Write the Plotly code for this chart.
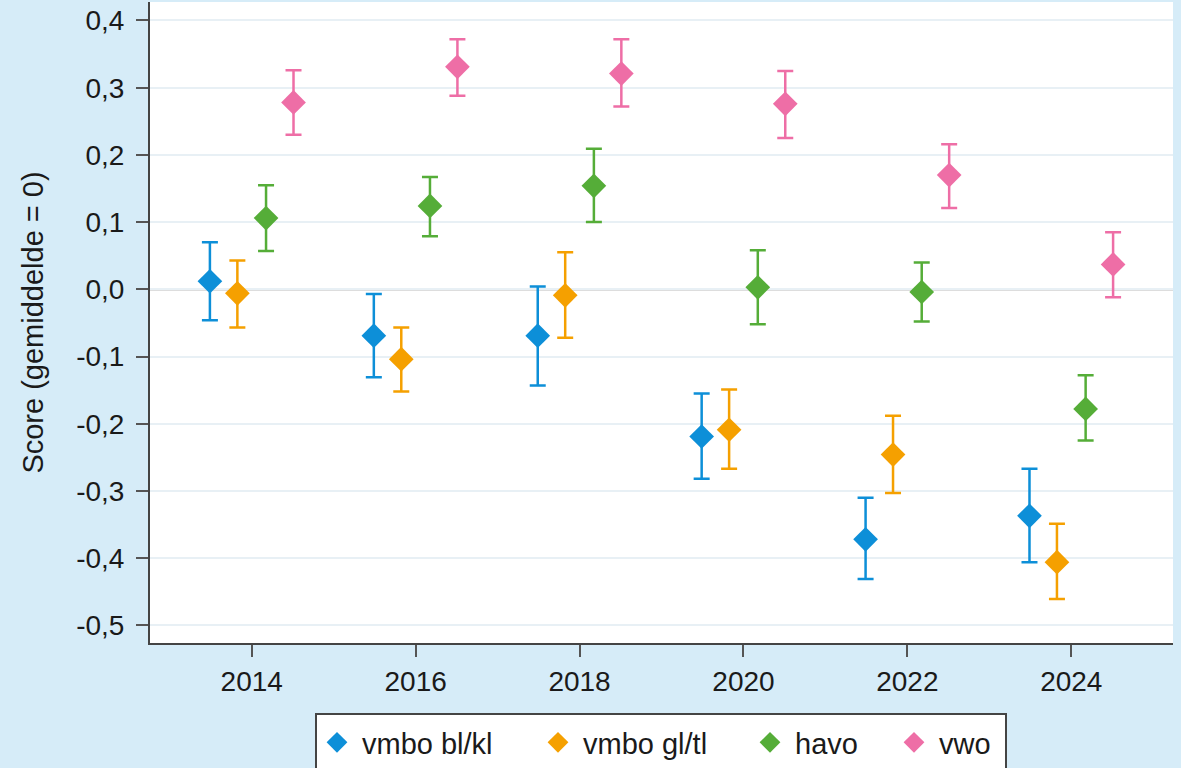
import plotly.graph_objects as go

years = [2014, 2016, 2018, 2020, 2022, 2024]
series_names = ["vmbo bl/kl", "vmbo gl/tl", "havo", "vwo"]

vmbo_bk = [0.012, -0.069, -0.069, -0.219, -0.372, -0.337]
vmbo_bk_hi = [0.070, -0.007, 0.004, -0.155, -0.310, -0.267]
vmbo_bk_lo = [-0.046, -0.131, -0.143, -0.282, -0.431, -0.406]

vmbo_gt = [-0.006, -0.104, -0.009, -0.209, -0.246, -0.406]
vmbo_gt_hi = [0.043, -0.057, 0.055, -0.149, -0.188, -0.349]
vmbo_gt_lo = [-0.057, -0.152, -0.072, -0.267, -0.303, -0.461]

havo = [0.106, 0.124, 0.154, 0.003, -0.004, -0.178]
havo_hi = [0.155, 0.167, 0.209, 0.058, 0.040, -0.128]
havo_lo = [0.057, 0.079, 0.100, -0.052, -0.048, -0.225]

vwo = [0.278, 0.331, 0.321, 0.276, 0.170, 0.037]
vwo_hi = [0.326, 0.372, 0.372, 0.325, 0.216, 0.085]
vwo_lo = [0.230, 0.288, 0.272, 0.225, 0.121, -0.012]

y_ticks = [-0.5, -0.4, -0.3, -0.2, -0.1, 0.0, 0.1, 0.2, 0.3, 0.4]
y_ticklabels = ["-0,5", "-0,4", "-0,3", "-0,2", "-0,1", "0,0", "0,1", "0,2", "0,3", "0,4"]

colors = ["#0d8fd8", "#f5a000", "#55ad38", "#ee6ea6"]
offsets = [-0.51, -0.175, 0.175, 0.51]

data = [
    (vmbo_bk, vmbo_bk_hi, vmbo_bk_lo),
    (vmbo_gt, vmbo_gt_hi, vmbo_gt_lo),
    (havo, havo_hi, havo_lo),
    (vwo, vwo_hi, vwo_lo),
]

# plot area geometry (pixels)
L, R, T, B = 150, 8, 2, 125
W, H = 1181, 768
pw, ph = W - L - R, H - T - B

def px_x(p):
    return (p - L) / pw

def px_y(p):
    return (H - B - p) / ph

legend_ids = ["legend", "legend2", "legend3", "legend4"]
legend_px = [336, 557, 769, 913]  # diamond centres in legend

FONT = "Liberation Sans, Arial, sans-serif"
fig = go.Figure()
for name, (vals, hi, lo), col, off, lid in zip(series_names, data, colors, offsets, legend_ids):
    fig.add_trace(go.Scatter(
        x=[y + off for y in years],
        y=vals,
        mode="markers",
        name=name,
        legend=lid,
        marker=dict(symbol="diamond", size=19, color=col, line=dict(width=0)),
        error_y=dict(
            type="data",
            symmetric=False,
            array=[h - v for h, v in zip(hi, vals)],
            arrayminus=[v - l for v, l in zip(vals, lo)],
            color=col,
            thickness=2.5,
            width=8,
        ),
    ))

fig.add_shape(type="line", xref="paper", x0=0, x1=1, yref="y", y0=0, y1=0,
              line=dict(color="#7a7a7a", width=2), layer="below")

# legend frame
fig.add_shape(type="rect", xref="paper", yref="paper",
              x0=px_x(316), x1=px_x(1006), y0=px_y(714), y1=px_y(820),
              fillcolor="#ffffff", line=dict(color="#444444", width=2), layer="above")

legends = {}
for lid, cx in zip(legend_ids, legend_px):
    legends[lid] = dict(
        orientation="h",
        x=px_x(cx - 24), xanchor="left",
        y=px_y(717), yanchor="top",
        bgcolor="rgba(0,0,0,0)",
        borderwidth=0,
        itemwidth=40,
        font=dict(family=FONT, size=29, color="#1a1a1a"),
    )

fig.update_layout(
    width=W, height=H,
    paper_bgcolor="#d6ecf8",
    plot_bgcolor="#ffffff",
    margin=dict(l=L, r=R, t=T, b=B, autoexpand=False),
    font=dict(family=FONT, size=28, color="#1a1a1a"),
    showlegend=True,
    **legends,
    xaxis=dict(
        range=[2012.759, 2025.241],
        tickvals=years,
        ticktext=[str(y) for y in years],
        showgrid=False,
        zeroline=False,
        automargin=False,
        showline=True, linecolor="#444444", linewidth=2,
        ticks="outside", ticklen=12, tickwidth=2, tickcolor="#555555",
        tickfont=dict(size=28),
    ),
    yaxis=dict(
        range=[-0.5263, 0.4275],
        tickvals=y_ticks,
        ticktext=y_ticklabels,
        showgrid=True, gridcolor="#e8f0f5", gridwidth=2,
        zeroline=False,
        automargin=False,
        showline=True, linecolor="#444444", linewidth=2,
        ticks="outside", ticklen=12, tickwidth=2, tickcolor="#555555",
        tickfont=dict(size=28),
        ticklabelstandoff=6,
        title=dict(text="Score (gemiddelde = 0)", font=dict(size=29), standoff=24),
    ),
)

fig.write_html("out.html",
               config={"displayModeBar": False},
               post_script="document.body.style.margin='0';document.body.style.overflow='hidden';")
